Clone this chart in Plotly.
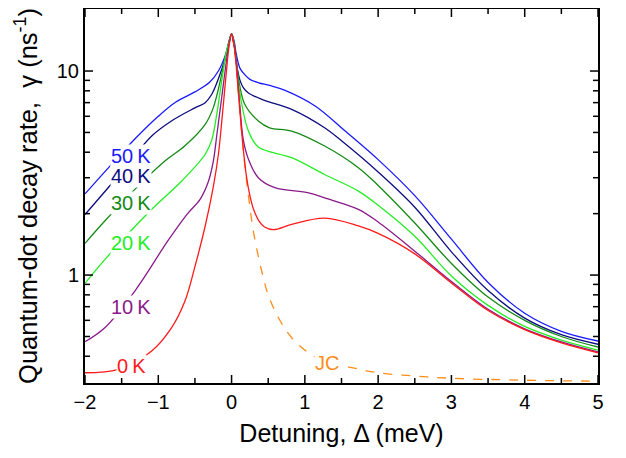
import plotly.graph_objects as go

# ---- data (detuning in meV, decay rate in ns^-1) ----
d_50K = [-2.0, -1.66, -1.32, -1.0, -0.76, -0.5, -0.3, -0.18, -0.08, -0.035, 0.0,
         0.035, 0.06, 0.09, 0.115, 0.18, 0.25, 0.37, 0.52, 0.73, 1.14, 1.55, 2.0, 2.5,
         3.0, 3.5, 4.0, 4.5, 5.0]
g_50K = [2.50, 3.42, 4.64, 6.0, 7.05, 7.9, 8.8, 10.0, 12.1, 14.0, 15.2,
         14.0, 12.3, 11.0, 10.3, 9.6, 9.1, 8.76, 8.5, 8.04, 6.74, 5.08, 3.68, 2.45,
         1.5, 0.92, 0.65, 0.53, 0.475]

d_40K = [-2.0, -1.5, -1.09, -0.8, -0.5, -0.36, -0.27, -0.13, -0.06, -0.03, 0.0,
         0.035, 0.08, 0.12, 0.16, 0.23, 0.45, 0.82, 1.27, 1.5, 2.0, 2.5, 3.0, 3.5, 4.0, 4.5, 5.0]
g_40K = [1.98, 3.2, 4.8, 5.75, 6.6, 7.0, 7.69, 10.3, 12.5, 14.0, 15.2,
         13.5, 10.2, 8.9, 8.3, 7.8, 7.18, 6.49, 5.27, 4.55, 3.2, 2.15, 1.3, 0.84, 0.615, 0.51, 0.458]

d_30K = [-2.0, -1.73, -1.32, -0.91, -0.64, -0.36, -0.25, -0.135, -0.07, -0.035, 0.0,
         0.035, 0.05, 0.09, 0.18, 0.365, 0.52, 0.82, 1.27, 1.73, 2.0, 2.5, 3.0, 3.5, 4.0, 4.5, 5.0]
g_30K = [1.43, 1.84, 2.63, 3.62, 4.29, 5.48, 6.6, 9.6, 12.3, 13.9, 15.2,
         13.6, 12.5, 9.4, 6.87, 5.69, 5.27, 5.08, 4.29, 3.36, 2.75, 1.8, 1.14, 0.78, 0.6, 0.5, 0.444]

d_20K = [-2.0, -1.73, -1.09, -0.68, -0.36, -0.27, -0.2, -0.135, -0.07, -0.035, 0.0,
         0.035, 0.115, 0.23, 0.365, 0.82, 1.27, 1.73, 2.0, 2.5, 3.0, 3.5, 4.0, 4.5, 5.0]
g_20K = [0.91, 1.19, 2.1, 2.89, 3.91, 4.6, 6.2, 8.93, 12.5, 13.8, 15.2,
         13.5, 7.7, 5.08, 4.24, 3.76, 3.11, 2.58, 2.2, 1.55, 0.99, 0.71, 0.56, 0.48, 0.429]

d_10K = [-2.0, -1.73, -1.32, -0.87, -0.6, -0.43, -0.32, -0.25, -0.2, -0.135, -0.07, -0.035, 0.0,
         0.035, 0.05, 0.115, 0.16, 0.23, 0.365, 0.59, 1.05, 1.27, 1.73, 2.0, 2.5,
         3.0, 3.5, 4.0, 4.5, 5.0]
g_10K = [0.471, 0.552, 0.835, 1.47, 2.0, 2.35, 2.85, 3.6, 4.9, 7.4, 11.2, 13.5, 15.2,
         13.3, 12.5, 6.6, 4.6, 3.7, 3.0, 2.68, 2.53, 2.39, 2.1, 1.82, 1.31,
         0.93, 0.68, 0.545, 0.47, 0.42]

d_0K = [-2.0, -1.545, -1.09, -0.818, -0.636, -0.5, -0.36, -0.25, -0.18, -0.135, -0.07, -0.035, 0.0,
        0.035, 0.05, 0.1, 0.15, 0.2, 0.25, 0.3, 0.37, 0.45, 0.57, 0.82, 1.27, 1.73, 2.0, 2.5,
        3.0, 3.5, 4.0, 4.5, 5.0]
g_0K = [0.332, 0.345, 0.424, 0.552, 0.746, 1.1, 1.74, 2.7, 3.9, 5.6, 10.0, 13.2, 15.2,
        13.2, 12.0, 7.3, 4.5, 3.1, 2.45, 2.1, 1.85, 1.72, 1.67, 1.77, 1.9, 1.74, 1.6, 1.27,
        0.915, 0.67, 0.54, 0.465, 0.416]

d_JC = [0.0, 0.035, 0.05, 0.1, 0.15, 0.2, 0.23, 0.3, 0.41, 0.5, 0.64, 0.82, 1.05, 1.3,
        1.64, 2.0, 2.5, 3.0, 3.66, 4.3, 5.0]
g_JC = [15.2, 13.2, 12.0, 7.3, 4.5, 3.0, 2.45, 1.62, 1.05, 0.8, 0.618, 0.493, 0.416, 0.375,
        0.352, 0.332, 0.32, 0.312, 0.307, 0.304, 0.302]

series = [
    ("50\u2009K", d_50K, g_50K, "#1a1aff"),
    ("40\u2009K", d_40K, g_40K, "#0c0c80"),
    ("30\u2009K", d_30K, g_30K, "#138a13"),
    ("20\u2009K", d_20K, g_20K, "#22ee22"),
    ("10\u2009K", d_10K, g_10K, "#8a1a8a"),
    ("0\u2009K", d_0K, g_0K, "#ff1a1a"),
]

# label placement (detuning, log10 gamma)
label_x = [-1.66, -1.66, -1.66, -1.66, -1.66, -1.58]
label_y = [0.583, 0.485, 0.354, 0.158, -0.155, -0.446]

x_ticks = [-2, -1, 0, 1, 2, 3, 4, 5]
x_minor = [-1.5, -0.5, 0.5, 1.5, 2.5, 3.5, 4.5]
y_ticks = [1, 10]
y_ticktext = ["1", "10"]
y_minor = [0.4, 0.5, 0.6, 0.7, 0.8, 0.9, 2, 3, 4, 5, 6, 7, 8, 9]

FONT = "Liberation Sans, Arial, sans-serif"
X_RANGE = [-2, 5]
Y_RANGE = [-0.529, 1.304]

W, H = 618, 450
M = dict(l=77, r=28, t=1, b=75)
PW = W - M["l"] - M["r"]
PH = H - M["t"] - M["b"]

fig = go.Figure()
fig.add_trace(go.Scatter(x=d_JC, y=g_JC, mode="lines",
                         line=dict(color="#ff8c1a", width=1.3, dash="dash", shape="spline", smoothing=1.0),
                         hoverinfo="skip", showlegend=False))
for name, d, g, c in series:
    fig.add_trace(go.Scatter(x=d, y=g, mode="lines", name=name,
                             line=dict(color=c, width=1.3, shape="spline", smoothing=1.0),
                             showlegend=False))

for (name, d, g, c), lx, ly in zip(series, label_x, label_y):
    fig.add_annotation(x=lx, y=ly, xref="x", yref="y", text=name, showarrow=False,
                       xanchor="left", yanchor="middle", bgcolor="white", borderpad=0,
                       font=dict(family=FONT, size=20, color=c))
fig.add_annotation(x=1.13, y=-0.431, xref="x", yref="y", text="JC", showarrow=False,
                   xanchor="left", yanchor="middle", bgcolor="white", borderpad=0,
                   font=dict(family=FONT, size=20, color="#ff8c1a"))

# inside tick marks on all four sides (drawn as shapes positioned through the axes)
tick_line = dict(color="black", width=1.5)
for vals, ln in ((x_ticks, 8), (x_minor, 5)):
    for v in vals:
        f = ln / PH
        fig.add_shape(type="line", xref="x", yref="paper", x0=v, x1=v, y0=0, y1=f, line=tick_line)
        fig.add_shape(type="line", xref="x", yref="paper", x0=v, x1=v, y0=1, y1=1 - f, line=tick_line)
for vals, ln in ((y_ticks, 8), (y_minor, 5)):
    for v in vals:
        f = ln / PW
        fig.add_shape(type="line", xref="paper", yref="y", x0=0, x1=f, y0=v, y1=v, line=tick_line)
        fig.add_shape(type="line", xref="paper", yref="y", x0=1, x1=1 - f, y0=v, y1=v, line=tick_line)

# page body has an 8px margin: figure is sized/offset so the plot lands where the reference has it
fig.update_layout(
    template="none",
    width=W, height=H,
    margin=M,
    paper_bgcolor="white", plot_bgcolor="white",
    font=dict(family=FONT, color="black"),
    showlegend=False,
    xaxis=dict(
        range=X_RANGE, tickmode="array", tickvals=x_ticks, automargin=False,
        ticks="", showline=True, linewidth=2, linecolor="black", mirror=True,
        showgrid=False, zeroline=False,
        tickfont=dict(family=FONT, size=20),
        title=dict(text="Detuning, Δ (meV)", font=dict(family=FONT, size=25), standoff=12),
    ),
    yaxis=dict(
        type="log", range=Y_RANGE, tickmode="array", tickvals=y_ticks, ticktext=y_ticktext,
        automargin=False,
        ticks="", showline=True, linewidth=2, linecolor="black", mirror=True,
        showgrid=False, zeroline=False,
        tickfont=dict(family=FONT, size=20),
        title=dict(text="Quantum-dot decay rate,\u00a0 γ (ns<sup>-1</sup>)", font=dict(family=FONT, size=25.5), standoff=12),
    ),
)

fig.write_html("out.html")
